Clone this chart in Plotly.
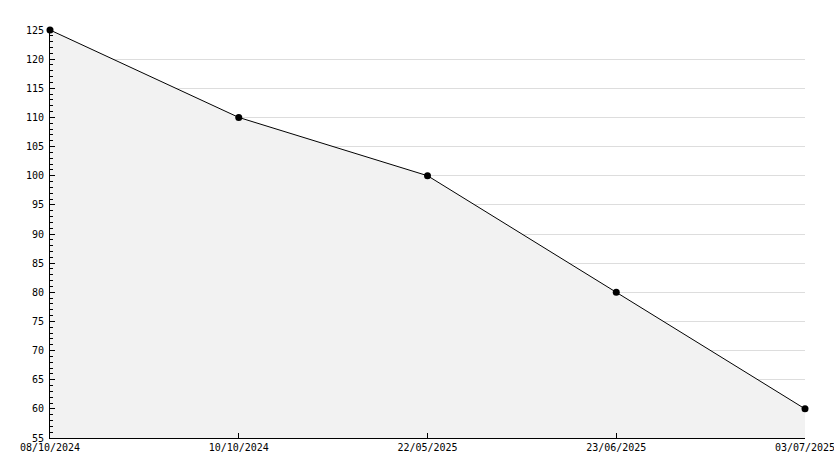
import plotly.graph_objects as go

dates = ["08/10/2024", "10/10/2024", "22/05/2025", "23/06/2025", "03/07/2025"]
values = [125, 110, 100, 80, 60]

fig = go.Figure()
fig.add_trace(go.Scatter(
    x=list(range(len(dates))), y=values,
    mode="lines+markers",
    fill="tozeroy", fillcolor="#f2f2f2",
    line=dict(color="black", width=1),
    marker=dict(color="black", size=7, symbol="circle"),
    showlegend=False,
    cliponaxis=False,
))

font = dict(family="DejaVu Sans Mono, monospace", size=10, color="black")
fig.update_layout(
    width=844, height=468,
    margin=dict(l=50, r=39, t=30, b=30, autoexpand=False),
    paper_bgcolor="white", plot_bgcolor="white",
    font=font,
    xaxis=dict(
        range=[0, len(dates) - 1],
        tickmode="array", tickvals=list(range(len(dates))), ticktext=dates,
        showgrid=False, zeroline=False,
        showline=True, linecolor="black", linewidth=1,
        ticks="inside", ticklen=5, tickcolor="black",
        tickfont=font, automargin=False, ticklabeloverflow="allow",
    ),
    yaxis=dict(
        range=[55, 125], dtick=5, tick0=55,
        showgrid=True, gridcolor="#dddddd", gridwidth=1,
        zeroline=False,
        showline=True, linecolor="black", linewidth=1,
        ticks="inside", ticklen=5, tickcolor="black",
        minor=dict(dtick=1, ticks="inside", ticklen=3, tickcolor="black", showgrid=False),
        tickfont=font, ticklabelstandoff=3, automargin=False,
    ),
)

fig.write_html(
    "out.html",
    config={"displayModeBar": False},
    post_script="document.body.style.margin='0';document.body.style.overflow='hidden';",
)
